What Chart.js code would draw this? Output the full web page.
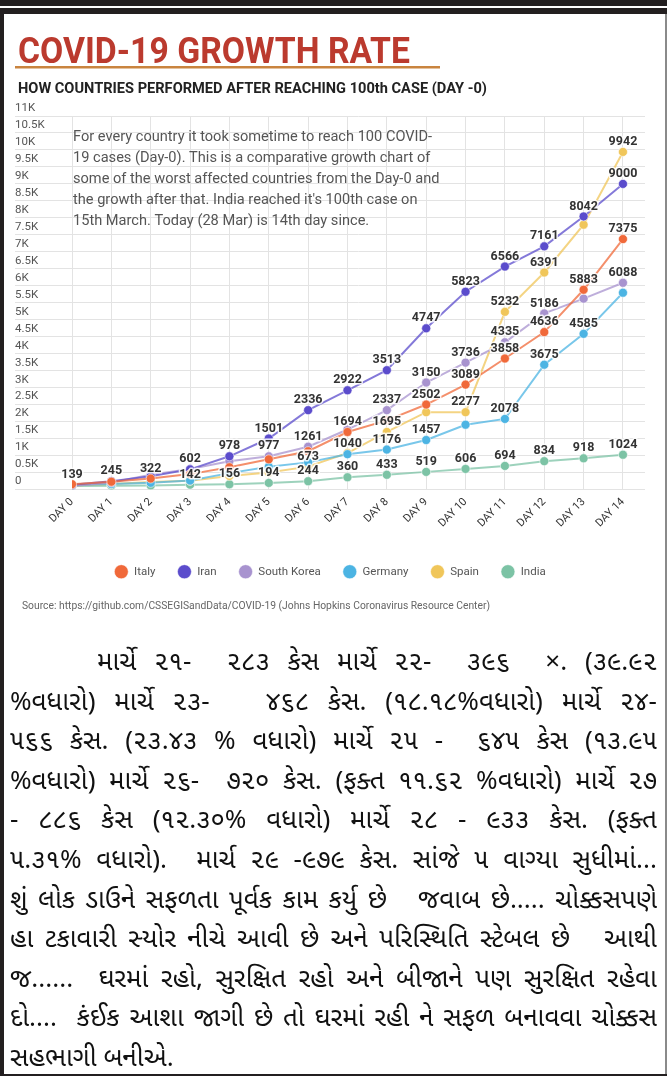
<!DOCTYPE html>
<html>
<head>
<meta charset="utf-8">
<script src="https://cdn.jsdelivr.net/npm/chart.js@4.4.1/dist/chart.umd.min.js"></script>
<style>
body{margin:0;background:#fff;width:667px;height:1076px;position:relative;overflow:hidden;}
.bar{position:absolute;background:#231f20;}
#wrap{position:absolute;left:0;top:0;width:667px;height:630px;}
#txt{position:absolute;left:10px;top:645px;width:647px;color:#111;
  font-family:"Noto Sans Gujarati","Lohit Gujarati","Shruti","Noto Serif Gujarati",sans-serif;font-size:26px;}
#txt div{height:39.6px;line-height:39.6px;text-align:justify;text-align-last:justify;white-space:pre-wrap;overflow:hidden;}
#txt div.first{padding-left:87px;}
#txt div.last{text-align-last:left;}
</style>
</head>
<body>
<div id="wrap"><canvas id="growth" width="667" height="630"></canvas></div>

<div class="bar" style="left:0;top:0;width:667px;height:6px"></div>
<div class="bar" style="left:0;top:8px;width:667px;height:6px"></div>
<div class="bar" style="left:0;top:8px;width:4px;height:1068px"></div>
<div class="bar" style="right:0;top:14px;width:2px;height:1062px;background:#8a8a8a"></div>
<div class="bar" style="left:0;bottom:0;width:667px;height:2px"></div>

<div id="txt">
<div class="first">માર્ચે ૨૧-  ૨૮૩ કેસ માર્ચે ૨૨-  ૩૯૬  ×. (૩૯.૯૨</div>
<div>%વધારો) માર્ચે ૨૩-   ૪૬૮ કેસ. (૧૮.૧૮%વધારો) માર્ચે ૨૪-</div>
<div>૫૬૬ કેસ. (૨૩.૪૩ % વધારો) માર્ચે ૨૫ -  ૬૪૫ કેસ (૧૩.૯૫</div>
<div>%વધારો) માર્ચે ૨૬-  ૭૨૦ કેસ. (ફક્ત ૧૧.૬૨ %વધારો) માર્ચે ૨૭</div>
<div>- ૮૮૬ કેસ (૧૨.૩૦% વધારો) માર્ચે ૨૮ - ૯૩૩ કેસ. (ફક્ત</div>
<div>૫.૩૧% વધારો).  માર્ચ ૨૯ -૯૭૯ કેસ. સાંજે ૫ વાગ્યા સુધીમાં...</div>
<div>શું લોક ડાઉને સફળતા પૂર્વક કામ કર્યુ છે   જવાબ છે..... ચોક્કસપણે</div>
<div>હા ટકાવારી સ્યોર નીચે આવી છે અને પરિસ્થિતિ સ્ટેબલ છે   આથી</div>
<div>જ......  ઘરમાં રહો, સુરક્ષિત રહો અને બીજાને પણ સુરક્ષિત રહેવા</div>
<div>દો....  કંઈક આશા જાગી છે તો ઘરમાં રહી ને સફળ બનાવવા ચોક્કસ</div>
<div class="last">સહભાગી બનીએ.</div>
</div>

<script>
// days since 100th case
var days = ['DAY 0','DAY 1','DAY 2','DAY 3','DAY 4','DAY 5','DAY 6','DAY 7','DAY 8','DAY 9','DAY 10','DAY 11','DAY 12','DAY 13','DAY 14'];

var italy      = [155, 229, 322, 453, 655, 888, 1128, 1694, 2036, 2502, 3089, 3858, 4636, 5883, 7375];
var iran       = [139, 245, 388, 593, 978, 1501, 2336, 2922, 3513, 4747, 5823, 6566, 7161, 8042, 9000];
var southKorea = [104, 204, 433, 602, 833, 977, 1261, 1766, 2337, 3150, 3736, 4335, 5186, 5621, 6088];
var germany    = [130, 159, 196, 262, 482, 670, 799, 1040, 1176, 1457, 1908, 2078, 3675, 4585, 5795];
var spain      = [120, 165, 222, 259, 400, 500, 673, 1073, 1695, 2277, 2277, 5232, 6391, 7798, 9942];
var india      = [102, 113, 119, 142, 156, 194, 244, 360, 433, 519, 606, 694, 834, 918, 1024];

// which points carry a value label in the original
var italyShown   = [2, 7, 9, 10, 11, 12, 13, 14];
var iranShown    = [0, 1, 4, 5, 6, 7, 8, 9, 10, 11, 12, 13, 14];
var koreaShown   = [3, 5, 6, 8, 9, 10, 11, 12, 14];
var germanyShown = [7, 8, 9, 11, 12, 13];
var spainShown   = [6, 8, 10, 11, 12, 14];
var indiaShown   = [3, 4, 5, 6, 7, 8, 9, 10, 11, 12, 13, 14];

var yTickLabels = ['0','0.5K','1K','1.5K','2K','2.5K','3K','3.5K','4K','4.5K','5K','5.5K','6K','6.5K','7K','7.5K','8K','8.5K','9K','9.5K','10K','10.5K','11K'];

var note = [
  'For every country it took sometime to reach 100 COVID-',
  '19 cases (Day-0). This is a comparative growth chart of',
  'some of the worst affected countries from the Day-0 and',
  'the growth after that. India reached it\'s 100th case on',
  '15th March. Today (28 Mar) is 14th day since.'
];

var FONT = "Roboto, sans-serif";

function pts(arr) {
  return arr.map(function(v, i) { return {x: i, y: v}; });
}

function series(name, arr, color, line, shown) {
  return {
    label: name,
    data: pts(arr),
    shown: shown,
    borderColor: line,
    backgroundColor: color,
    borderWidth: 2,
    pointRadius: 4.5,
    pointHoverRadius: 4.5,
    pointBackgroundColor: color,
    pointBorderColor: 'rgba(255,255,255,0.55)',
    pointBorderWidth: 1,
    tension: 0
  };
}

// squeeze text to a width, the original uses a condensed face
function squeezed(ctx, text, x, y, width) {
  var w = ctx.measureText(text).width;
  ctx.save();
  ctx.translate(x, y);
  ctx.scale(width / w, 1);
  ctx.fillText(text, 0, 0);
  ctx.restore();
}

var decor = {
  id: 'decor',
  beforeDraw: function(chart) {
    var ctx = chart.ctx;
    ctx.save();
    ctx.fillStyle = '#fff';
    ctx.fillRect(0, 0, chart.width, chart.height);
    ctx.textBaseline = 'alphabetic';

    ctx.fillStyle = '#bb3a2e';
    ctx.font = "bold 36px " + FONT;
    squeezed(ctx, 'COVID-19 GROWTH RATE', 18, 63, 392);

    ctx.fillStyle = '#c9843f';
    ctx.fillRect(15, 66, 425, 2.5);

    ctx.fillStyle = '#222';
    ctx.font = "bold 15px " + FONT;
    squeezed(ctx, 'HOW COUNTRIES PERFORMED AFTER REACHING 100th CASE (DAY -0)', 18, 93, 469);

    ctx.fillStyle = '#666';
    ctx.font = "10px " + FONT;
    squeezed(ctx, 'Source: https://github.com/CSSEGISandData/COVID-19 (Johns Hopkins Coronavirus Resource Center)', 22, 609, 468);
    ctx.restore();
  },
  beforeDatasetsDraw: function(chart) {
    var ctx = chart.ctx;
    ctx.save();
    ctx.fillStyle = '#555';
    ctx.font = "14.6px " + FONT;
    ctx.textBaseline = 'middle';
    note.forEach(function(t, i) {
      ctx.fillText(t, 73, 137 + i * 21.2);
    });
    ctx.restore();
  }
};

var valueLabels = {
  id: 'valueLabels',
  afterDatasetsDraw: function(chart) {
    var ctx = chart.ctx;
    ctx.save();
    ctx.font = "bold 12.5px " + FONT;
    ctx.textAlign = 'center';
    ctx.textBaseline = 'middle';
    ctx.lineJoin = 'round';
    chart.data.datasets.forEach(function(ds, i) {
      var meta = chart.getDatasetMeta(i);
      ds.shown.forEach(function(j) {
        var el = meta.data[j];
        var txt = String(ds.data[j].y);
        ctx.strokeStyle = 'rgba(255,255,255,0.85)';
        ctx.lineWidth = 3;
        ctx.strokeText(txt, el.x, el.y - 10);
        ctx.fillStyle = '#333';
        ctx.fillText(txt, el.x, el.y - 10);
      });
    });
    ctx.restore();
  }
};

var ctx = document.getElementById('growth').getContext('2d');
var chart = new Chart(ctx, {
  type: 'line',
  data: {
    datasets: [
      series('Italy', italy, '#f0693a', 'rgba(240,105,58,0.75)', italyShown),
      series('Iran', iran, '#5b4ccc', 'rgba(91,76,204,0.75)', iranShown),
      series('South Korea', southKorea, '#a893cf', 'rgba(168,147,207,0.75)', koreaShown),
      series('Germany', germany, '#4cb4e3', 'rgba(76,180,227,0.75)', germanyShown),
      series('Spain', spain, '#f0c65a', 'rgba(240,198,90,0.75)', spainShown),
      series('India', india, '#7cc3a5', 'rgba(124,195,165,0.75)', indiaShown)
    ]
  },
  options: {
    responsive: false,
    animation: false,
    devicePixelRatio: 1,
    layout: { padding: { left: 15, right: 22, top: 116, bottom: 42.5 } },
    plugins: {
      tooltip: { enabled: false },
      legend: {
        position: 'bottom',
        labels: {
          usePointStyle: true,
          pointStyle: 'circle',
          pointStyleWidth: 14,
          boxHeight: 10,
          padding: 22,
          color: '#555',
          font: { size: 11.5, family: FONT }
        }
      }
    },
    scales: {
      x: {
        type: 'linear',
        min: 0,
        max: 14.56,
        afterFit: function(s) { s.height = 54.5; },
        grid: { color: '#e3e3e3', drawTicks: false },
        border: { display: false },
        ticks: {
          stepSize: 1,
          includeBounds: false,
          autoSkip: false,
          minRotation: 45,
          maxRotation: 45,
          padding: 6,
          color: '#333',
          font: { size: 11, family: FONT },
          callback: function(v) { return days[v]; }
        }
      },
      y: {
        min: 0,
        max: 11000,
        afterFit: function(s) { s.width = 57; },
        grid: { color: '#e3e3e3', tickLength: 57 },
        border: { display: false },
        ticks: {
          stepSize: 500,
          crossAlign: 'far',
          labelOffset: -8,
          color: '#555',
          font: { size: 11.5, family: FONT },
          callback: function(v) { return yTickLabels[Math.round(v / 500)]; }
        }
      }
    }
  },
  plugins: [decor, valueLabels]
});
</script>
</body>
</html>
